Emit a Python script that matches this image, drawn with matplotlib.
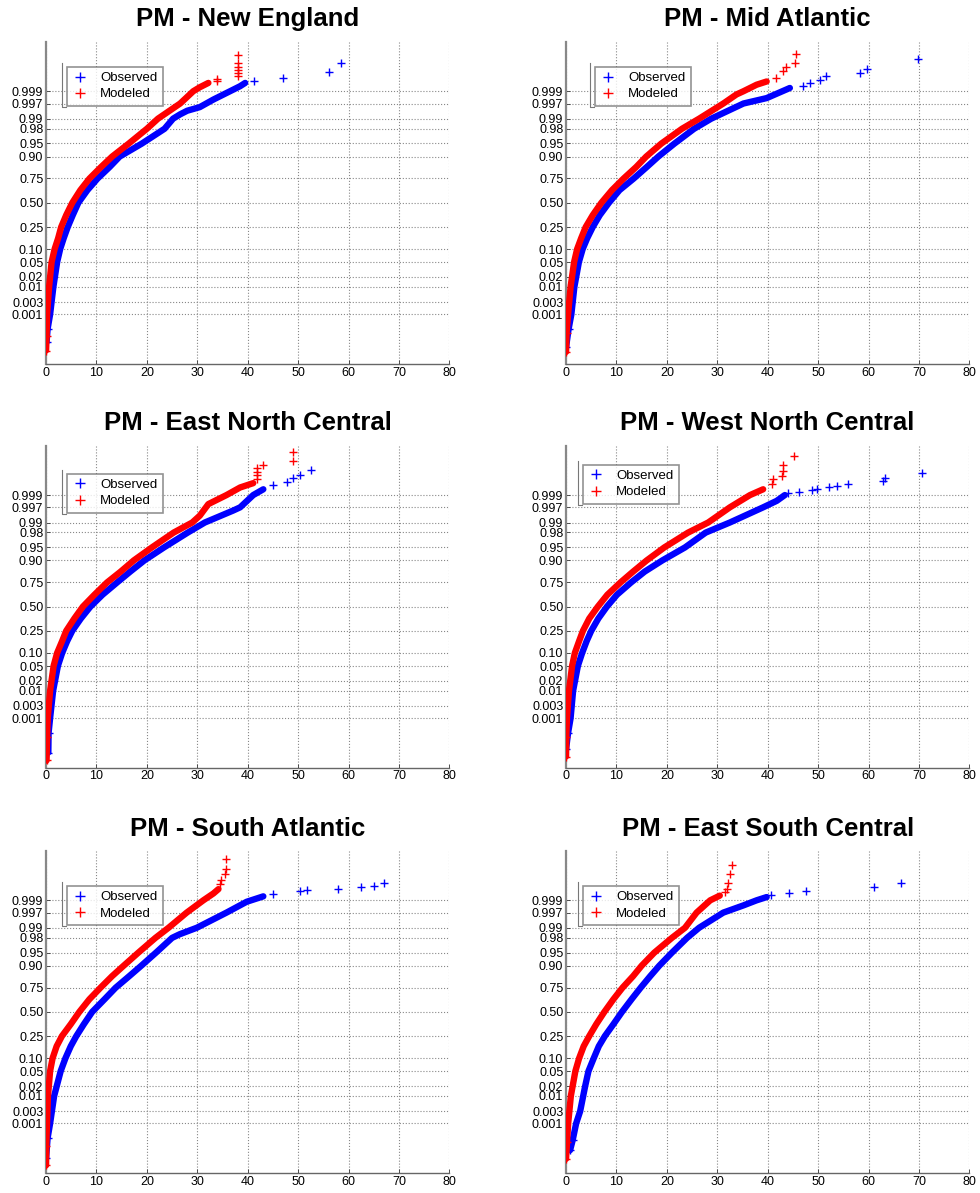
"""Normal probability plots of PM: observed vs modeled, six census regions."""
from statistics import NormalDist
import matplotlib
matplotlib.use("Agg")
import matplotlib.pyplot as plt
from matplotlib.lines import Line2D

plt.rcParams['font.family'] = ['Liberation Sans', 'DejaVu Sans']

# probability tick labels of the normal-probability axis
PROB_TICKS = [0.001, 0.003, 0.01, 0.02, 0.05, 0.10, 0.25, 0.50,
              0.75, 0.90, 0.95, 0.98, 0.99, 0.997, 0.999]
PROB_LABELS = ["0.001", "0.003", "0.01", "0.02", "0.05", "0.10", "0.25", "0.50",
               "0.75", "0.90", "0.95", "0.98", "0.99", "0.997", "0.999"]
X_TICKS = [0, 10, 20, 30, 40, 50, 60, 70, 80]

TITLES = ["PM - New England", "PM - Mid Atlantic",
          "PM - East North Central", "PM - West North Central",
          "PM - South Atlantic", "PM - East South Central"]

# values: x = PM, z = normal score of the plotting position
# dense part of each curve (body) and the sparse single points (tail)
NE_OBS_X = [0.1, 0.3, 0.8, 1.45, 2.2, 2.8, 3.5, 4.3, 5.3, 6.4, 8.2, 10.2, 12.6, 14.6, 19.0, 23.5, 25.2, 26.6, 28.0, 30.5, 33.2, 36.5, 38.5, 39.5]
NE_OBS_Z = [-3.86, -3.5, -3.09, -2.33, -1.64, -1.28, -0.98, -0.67, -0.34, 0.0, 0.35, 0.67, 0.99, 1.28, 1.64, 2.05, 2.33, 2.45, 2.55, 2.65, 2.86, 3.09, 3.23, 3.32]
NE_OBS_TX = [0.1, 0.3, 41.2, 47.1, 56.2, 58.6]
NE_OBS_TZ = [-3.86, -3.5, 3.38, 3.47, 3.61, 3.87]
NE_MOD_X = [0.0, 0.1, 0.2, 0.6, 1.1, 1.7, 2.4, 3.0, 4.0, 5.2, 6.8, 8.6, 10.9, 13.1, 16.4, 20.0, 22.2, 26.6, 29.2, 30.5, 32.2]
NE_MOD_Z = [-4.09, -3.7, -3.09, -2.33, -1.64, -1.28, -0.98, -0.67, -0.34, 0.0, 0.35, 0.67, 0.99, 1.28, 1.64, 2.05, 2.33, 2.75, 3.09, 3.2, 3.32]
NE_MOD_TX = [0.0, 0.1, 33.9, 34.0, 38.1, 38.1, 38.1, 38.1, 38.1, 38.1]
NE_MOD_TZ = [-4.09, -3.7, 3.36, 3.42, 3.5, 3.6, 3.68, 3.75, 3.87, 4.1]

MA_OBS_X = [0.0, 0.5, 1.05, 1.65, 2.55, 3.3, 4.2, 5.3, 6.7, 8.5, 10.6, 13.4, 16.0, 18.3, 21.5, 25.4, 28.8, 35.2, 39.8, 44.4]
MA_OBS_Z = [-4.0, -3.5, -3.09, -2.33, -1.64, -1.28, -0.98, -0.67, -0.34, 0.0, 0.35, 0.67, 0.99, 1.28, 1.64, 2.05, 2.33, 2.75, 2.9, 3.18]
MA_OBS_TX = [0.0, 0.5, 47.1, 48.4, 50.4, 51.6, 58.3, 59.8, 69.9]
MA_OBS_TZ = [-4.0, -3.5, 3.23, 3.32, 3.41, 3.5, 3.59, 3.71, 3.99]
MA_MOD_X = [0.0, 0.1, 0.4, 0.9, 1.6, 2.2, 3.0, 3.9, 5.3, 7.0, 9.1, 11.4, 13.9, 15.9, 18.9, 23.0, 26.4, 31.2, 33.8, 35.2, 37.8, 39.8]
MA_MOD_Z = [-4.13, -3.6, -3.09, -2.33, -1.64, -1.28, -0.98, -0.67, -0.34, 0.0, 0.35, 0.67, 0.99, 1.28, 1.64, 2.05, 2.33, 2.75, 3.0, 3.09, 3.27, 3.36]
MA_MOD_TX = [0.0, 0.1, 41.6, 43.1, 43.6, 45.4, 45.6]
MA_MOD_TZ = [-4.13, -3.6, 3.45, 3.64, 3.75, 3.87, 4.12]

ENC_OBS_X = [0.45, 0.5, 0.8, 1.4, 2.35, 3.2, 4.2, 5.2, 6.9, 8.8, 11.2, 14.1, 16.7, 19.5, 23.4, 28.1, 31.5, 37.1, 38.5, 41.1, 43.1]
ENC_OBS_Z = [-4.04, -3.5, -3.09, -2.33, -1.64, -1.28, -0.95, -0.67, -0.33, 0.0, 0.33, 0.67, 0.97, 1.28, 1.64, 2.05, 2.33, 2.66, 2.75, 3.09, 3.25]
ENC_OBS_TX = [0.45, 0.5, 45.1, 47.7, 48.9, 50.4, 52.5]
ENC_OBS_TZ = [-4.04, -3.5, 3.36, 3.45, 3.57, 3.64, 3.78]
ENC_MOD_X = [0.1, 0.2, 0.33, 0.8, 1.5, 2.2, 3.2, 4.0, 5.6, 7.3, 9.6, 12.1, 14.8, 17.4, 21.0, 25.3, 29.0, 30.5, 32.2, 35.8, 38.5, 41.1]
ENC_MOD_Z = [-4.26, -3.6, -3.09, -2.33, -1.64, -1.28, -0.95, -0.67, -0.33, 0.0, 0.33, 0.67, 0.97, 1.28, 1.64, 2.05, 2.33, 2.52, 2.84, 3.09, 3.3, 3.42]
ENC_MOD_TX = [0.1, 0.2, 41.8, 41.8, 41.8, 41.8, 43.0, 49.0, 49.0]
ENC_MOD_TZ = [-4.26, -3.6, 3.54, 3.64, 3.74, 3.84, 3.92, 4.03, 4.29]

WNC_OBS_X = [0.0, 0.4, 0.9, 1.4, 2.35, 3.2, 4.1, 5.0, 6.4, 8.1, 10.1, 12.9, 15.6, 19.1, 23.6, 27.7, 32.5, 39.1, 41.8, 43.4]
WNC_OBS_Z = [-3.95, -3.5, -3.09, -2.33, -1.64, -1.28, -0.95, -0.67, -0.33, 0.0, 0.33, 0.67, 0.97, 1.28, 1.64, 2.05, 2.33, 2.75, 2.93, 3.09]
WNC_OBS_TX = [0.0, 0.4, 44.1, 46.3, 48.7, 49.7, 52.2, 53.7, 56.0, 62.9, 63.2, 70.7]
WNC_OBS_TZ = [-3.95, -3.5, 3.16, 3.18, 3.23, 3.27, 3.31, 3.34, 3.39, 3.48, 3.57, 3.69]
WNC_MOD_X = [0.0, 0.05, 0.18, 0.58, 1.2, 1.75, 2.6, 3.35, 4.6, 6.3, 8.2, 10.8, 13.3, 16.0, 19.5, 24.2, 28.2, 32.5, 36.5, 39.1]
WNC_MOD_Z = [-4.15, -3.6, -3.09, -2.33, -1.64, -1.28, -0.95, -0.67, -0.33, 0.0, 0.33, 0.67, 0.97, 1.28, 1.64, 2.05, 2.33, 2.75, 3.09, 3.25]
WNC_MOD_TX = [0.0, 0.05, 40.8, 41.1, 42.9, 43.1, 43.1, 45.3]
WNC_MOD_TZ = [-4.15, -3.6, 3.39, 3.53, 3.62, 3.75, 3.91, 4.16]

SA_OBS_X = [0.0, 0.3, 0.8, 1.6, 2.9, 3.85, 4.9, 6.0, 7.5, 9.15, 11.6, 13.8, 16.5, 18.9, 21.8, 25.0, 26.5, 29.9, 35.8, 39.8, 43.1]
SA_OBS_Z = [-4.05, -3.5, -3.09, -2.33, -1.64, -1.28, -0.95, -0.67, -0.34, 0.0, 0.35, 0.67, 0.99, 1.28, 1.64, 2.05, 2.15, 2.33, 2.75, 3.05, 3.2]
SA_OBS_TX = [0.0, 0.3, 45.1, 50.4, 51.8, 58.0, 62.5, 65.1, 67.0]
SA_OBS_TZ = [-4.05, -3.5, 3.27, 3.34, 3.38, 3.41, 3.45, 3.5, 3.58]
SA_MOD_X = [0.0, 0.05, 0.18, 0.38, 0.8, 1.3, 2.1, 3.15, 4.9, 6.6, 8.6, 10.8, 13.1, 15.4, 18.3, 21.7, 24.3, 27.9, 31.2, 33.2, 34.2]
SA_MOD_Z = [-4.25, -3.7, -3.09, -2.33, -1.64, -1.28, -0.95, -0.67, -0.34, 0.0, 0.35, 0.67, 0.99, 1.28, 1.64, 2.05, 2.33, 2.75, 3.09, 3.28, 3.4]
SA_MOD_TX = [0.0, 0.05, 34.5, 34.8, 35.5, 35.7, 35.7]
SA_MOD_TZ = [-4.25, -3.7, 3.55, 3.64, 3.83, 3.96, 4.24]

ESC_OBS_X = [0.8, 1.3, 2.0, 2.8, 3.4, 3.8, 4.45, 5.5, 6.5, 7.7, 9.4, 11.1, 13.0, 14.8, 16.7, 18.5, 21.0, 24.0, 26.4, 31.2, 35.2, 37.8, 39.8]
ESC_OBS_Z = [-3.83, -3.56, -3.09, -2.75, -2.33, -2.05, -1.64, -1.28, -0.95, -0.67, -0.34, 0.0, 0.35, 0.67, 0.99, 1.28, 1.64, 2.05, 2.33, 2.75, 2.95, 3.09, 3.18]
ESC_OBS_TX = [0.8, 1.3, 40.6, 44.2, 47.6, 61.1, 66.5]
ESC_OBS_TZ = [-3.83, -3.56, 3.23, 3.29, 3.36, 3.45, 3.58]
ESC_MOD_X = [0.0, 0.2, 0.42, 0.95, 1.85, 2.6, 3.5, 4.6, 6.0, 7.6, 9.4, 11.2, 13.3, 15.0, 17.5, 21.0, 23.6, 25.9, 28.6, 30.5]
ESC_MOD_Z = [-4.07, -3.6, -3.09, -2.33, -1.64, -1.28, -0.95, -0.67, -0.34, 0.0, 0.35, 0.67, 0.99, 1.28, 1.64, 2.05, 2.33, 2.75, 3.09, 3.22]
ESC_MOD_TX = [0.0, 0.2, 31.5, 32.0, 32.2, 32.6, 33.0]
ESC_MOD_TZ = [-4.07, -3.6, 3.31, 3.4, 3.58, 3.81, 4.06]

PANELS = [
    (NE_OBS_X, NE_OBS_Z, NE_OBS_TX, NE_OBS_TZ, NE_MOD_X, NE_MOD_Z, NE_MOD_TX, NE_MOD_TZ),
    (MA_OBS_X, MA_OBS_Z, MA_OBS_TX, MA_OBS_TZ, MA_MOD_X, MA_MOD_Z, MA_MOD_TX, MA_MOD_TZ),
    (ENC_OBS_X, ENC_OBS_Z, ENC_OBS_TX, ENC_OBS_TZ, ENC_MOD_X, ENC_MOD_Z, ENC_MOD_TX, ENC_MOD_TZ),
    (WNC_OBS_X, WNC_OBS_Z, WNC_OBS_TX, WNC_OBS_TZ, WNC_MOD_X, WNC_MOD_Z, WNC_MOD_TX, WNC_MOD_TZ),
    (SA_OBS_X, SA_OBS_Z, SA_OBS_TX, SA_OBS_TZ, SA_MOD_X, SA_MOD_Z, SA_MOD_TX, SA_MOD_TZ),
    (ESC_OBS_X, ESC_OBS_Z, ESC_OBS_TX, ESC_OBS_TZ, ESC_MOD_X, ESC_MOD_Z, ESC_MOD_TX, ESC_MOD_TZ),
]

OBS_C = "#0000ff"
MOD_C = "#ff0000"
Z_LIM = 4.46
# legend top-left offset from the axes corner, in pixels (as in the original)
LEG_OFFSETS = [(21, 25), (29, 25), (21, 28), (17, 19), (21, 35), (17, 35)]


def main():
    z_ticks = [NormalDist().inv_cdf(p) for p in PROB_TICKS]
    fig = plt.figure(figsize=(9.8, 11.93), dpi=100)
    lefts = [0.047, 0.5776]
    bottoms = [0.695, 0.3565, 0.0168]
    w, h = 0.4115, 0.270
    ax_w_px, ax_h_px = w * 980, h * 1193

    for i, (title, d) in enumerate(zip(TITLES, PANELS)):
        ox, oz, otx, otz, mx, mz, mtx, mtz = d
        ax = fig.add_axes([lefts[i % 2], bottoms[i // 2], w, h])

        ax.plot(ox, oz, "-", color=OBS_C, lw=4.6, solid_capstyle="round",
                solid_joinstyle="round", zorder=3)
        ax.plot(otx, otz, "+", color=OBS_C, ms=6, mew=1.0, zorder=3)
        ax.plot(mx, mz, "-", color=MOD_C, lw=4.6, solid_capstyle="round",
                solid_joinstyle="round", zorder=4)
        ax.plot(mtx, mtz, "+", color=MOD_C, ms=6, mew=1.0, zorder=4)

        ax.set_xlim(0, 80)
        ax.set_ylim(-Z_LIM, Z_LIM)
        ax.set_xticks(X_TICKS)
        ax.set_yticks(z_ticks)
        ax.set_yticklabels(PROB_LABELS)
        ax.tick_params(labelsize=9, direction="in", length=3, width=0.6,
                       colors="#333333", labelcolor="black", pad=2)
        ax.grid(True, ls=":", color="#888888", lw=0.8)
        for s in ("top", "right"):
            ax.spines[s].set_visible(False)
        ax.spines["left"].set_color("#888888")
        ax.spines["left"].set_linewidth(1.6)
        ax.spines["bottom"].set_color("#666666")
        ax.spines["bottom"].set_linewidth(1.0)
        ax.set_title(title, fontsize=18.5, fontweight="bold", pad=11)

        dx, dy = LEG_OFFSETS[i]
        lx, ly = dx / ax_w_px, 1 - dy / ax_h_px
        handles = [Line2D([], [], ls="none", marker="+", color=OBS_C, ms=7, mew=1.0),
                   Line2D([], [], ls="none", marker="+", color=MOD_C, ms=7, mew=1.0)]
        leg = ax.legend(handles, ["Observed", "Modeled"], loc="upper left",
                        bbox_to_anchor=(lx, ly), fontsize=9.5, frameon=True,
                        fancybox=False, borderaxespad=0, handlelength=1.2,
                        handletextpad=0.9, borderpad=0.4, labelspacing=0.3)
        leg.get_frame().set_edgecolor("#777777")
        leg.get_frame().set_linewidth(1.2)
        leg.set_zorder(5)

        # stray bracket left of the legend box, as in the original
        bx = (dx - 5) / ax_w_px
        by0 = 1 - (dy - 4) / ax_h_px
        by1 = 1 - (dy + 40) / ax_h_px
        ax.plot([bx, bx, bx + 4 / ax_w_px], [by0, by1, by1], color="#777777",
                lw=0.8, transform=ax.transAxes, clip_on=False, zorder=5)

    fig.savefig("out.png", dpi=100)
    plt.close(fig)


if __name__ == "__main__":
    main()
